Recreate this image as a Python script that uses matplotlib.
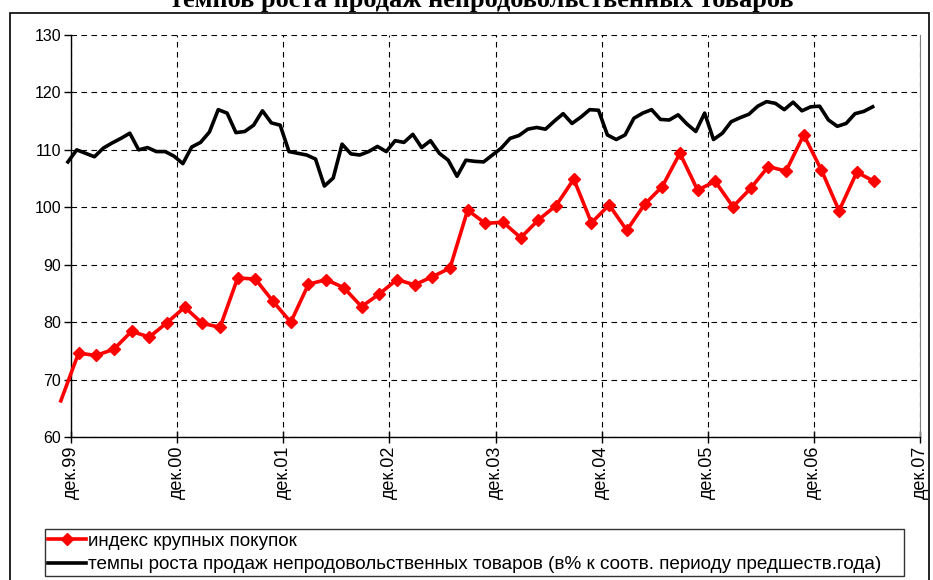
import matplotlib
matplotlib.use('Agg')
import matplotlib.pyplot as plt
from matplotlib.patches import Rectangle

# месяцы считаются от дек.99 (0) до дек.07 (96)
tick_months = [0, 12, 24, 36, 48, 60, 72, 84, 96]
tick_labels = ['дек.99', 'дек.00', 'дек.01', 'дек.02', 'дек.03',
               'дек.04', 'дек.05', 'дек.06', 'дек.07']

# индекс крупных покупок (раз в два месяца)
red_start = -1.15
red_vals = [66.3, 74.6, 74.2, 75.3, 78.4, 77.4, 79.9, 82.6, 79.8, 79.1,
            87.7, 87.5, 83.6, 80.0, 86.6, 87.4, 86.0, 82.7, 84.9, 87.4,
            86.5, 87.9, 89.4, 99.5, 97.2, 97.4, 94.7, 97.8, 100.3, 104.9,
            97.3, 100.4, 96.0, 100.5, 103.6, 109.4, 103.0, 104.5, 100.1, 103.3,
            107.1, 106.3, 112.6, 106.5, 99.4, 106.1, 104.5]

# темпы роста продаж непродовольственных товаров (ежемесячно)
black_start = -0.35
black_vals = [107.9, 110.0, 109.4, 108.8, 110.3, 111.2, 112.0, 112.9, 110.0, 110.4,
              109.7, 109.7, 108.9, 107.6, 110.5, 111.3, 113.1, 117.0, 116.4, 113.0,
              113.2, 114.3, 116.8, 114.7, 114.3, 109.7, 109.4, 109.1, 108.4, 103.7,
              105.1, 111.0, 109.3, 109.1, 109.7, 110.6, 109.7, 111.6, 111.3, 112.7,
              110.4, 111.6, 109.4, 108.2, 105.4, 108.2, 108.0, 107.9, 109.1, 110.3,
              112.0, 112.5, 113.6, 113.9, 113.6, 115.0, 116.3, 114.6, 115.7, 117.0,
              116.9, 112.6, 111.8, 112.6, 115.5, 116.4, 117.0, 115.3, 115.2, 116.1,
              114.5, 113.2, 116.4, 111.8, 112.9, 114.9, 115.6, 116.2, 117.6, 118.4,
              118.1, 117.0, 118.3, 116.8, 117.5, 117.6, 115.2, 114.1, 114.6, 116.3,
              116.7, 117.5]

red_x = [red_start + 2 * i for i in range(len(red_vals))]
black_x = [black_start + i for i in range(len(black_vals))]

plt.rcParams['font.family'] = ['Liberation Sans', 'DejaVu Sans']

W, H = 933, 580
fig = plt.figure(figsize=(W / 100, H / 100), dpi=100)
ax = fig.add_axes([71 / W, 1 - 437 / H, (920 - 71) / W, (437 - 35) / H])

# рамка вокруг всей диаграммы
fig.patches.append(Rectangle((10 / W, -0.05), (929 - 10) / W, 1.05 - 13 / H,
                             transform=fig.transFigure, fill=False,
                             edgecolor='black', linewidth=1.2))

# вторая строка заголовка, верх обрезан как в оригинале
fig.text(0.516, 1 - 7 / H, 'темпов роста продаж непродовольственных товаров',
         ha='center', va='baseline', fontsize=19, fontweight='bold',
         family=['Liberation Serif', 'DejaVu Serif'])

clip = Rectangle((-0.8, 59), 97, 72, transform=ax.transData)

l1, = ax.plot(red_x, red_vals, color='#ff0000', lw=2.6, marker='D', ms=6.5,
              markevery=slice(1, None), label='индекс крупных покупок',
              clip_on=False, zorder=4)
l2, = ax.plot(black_x, black_vals, color='black', lw=2.6,
              label='темпы роста продаж непродовольственных товаров (в% к соотв. периоду предшеств.года)',
              clip_on=False, zorder=3)
l1.set_clip_path(clip)
l2.set_clip_path(clip)

ax.set_xlim(0, 96)
ax.set_ylim(60, 130)
ax.set_yticks(range(60, 131, 10))
ax.set_xticks(tick_months)
ax.set_xticklabels(tick_labels, rotation=90, va='top', ha='center')
ax.tick_params(axis='x', direction='inout', length=8, width=1, labelsize=13, pad=2)
ax.tick_params(axis='y', direction='out', length=5, width=1, labelsize=11.5, pad=2)

ax.grid(True, color='black', linestyle=(0, (5, 4)), linewidth=0.8)
ax.spines['top'].set_visible(False)
ax.spines['right'].set_color('#808080')
ax.spines['left'].set_linewidth(1)
ax.spines['bottom'].set_linewidth(1)

leg = fig.legend(handles=[l1, l2], loc='lower left',
                 bbox_to_anchor=(45 / W, 1 - 576 / H, (904 - 45) / W, (576 - 521) / H),
                 mode='expand', borderaxespad=0, fontsize=13.6, frameon=True,
                 fancybox=False, edgecolor='black', handlelength=2.0,
                 handletextpad=0.15, borderpad=0.15, labelspacing=0.34)
leg.get_frame().set_linewidth(1)

fig.savefig('out.png', dpi=100)
